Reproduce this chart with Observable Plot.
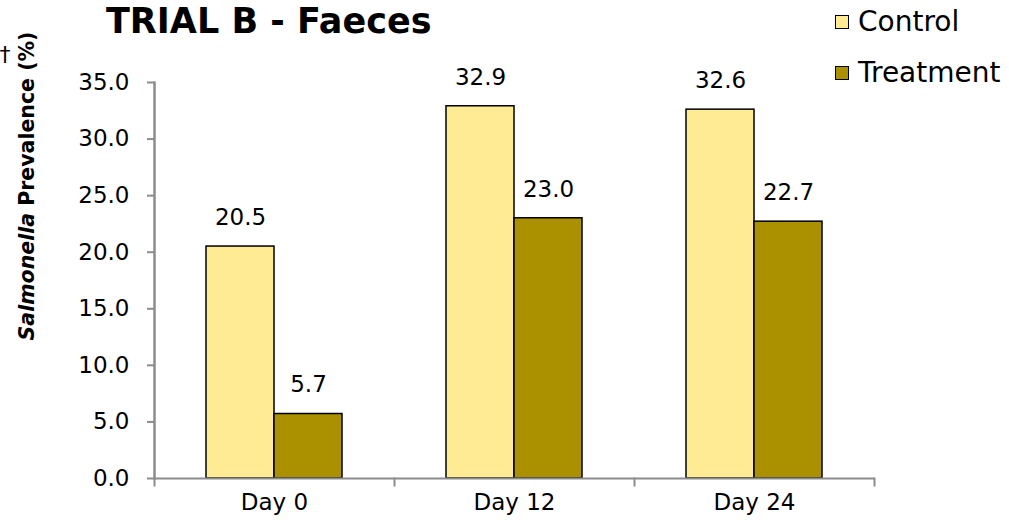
<!DOCTYPE html>
<html><head><meta charset="utf-8">
<script src="https://cdn.jsdelivr.net/npm/d3@7"></script>
<script src="https://cdn.jsdelivr.net/npm/@observablehq/plot@0.6"></script>
<style>
body{margin:0;background:#fff;font-family:"DejaVu Sans",sans-serif;}
#wrap{position:relative;width:1009px;height:528px;overflow:hidden;}
#title{position:absolute;left:106px;top:1px;font-weight:bold;font-size:35px;color:#000;white-space:nowrap;}
#legend{position:absolute;left:835px;top:-4px;font-size:28px;color:#000;}
.item{display:flex;align-items:center;height:51px;white-space:nowrap;}
.sw{width:12px;height:12px;border:1.5px solid #000;margin-right:9px;}
#ylab{position:absolute;left:0;top:0;}
</style></head><body><div id="wrap"></div>
<script>
const days = ["Day 0", "Day 12", "Day 24"];
const series = ["Control", "Treatment"];
const control = [20.5, 32.9, 32.6];
const treatment = [5.7, 23.0, 22.7];
const colors = ["#FFEB94", "#AB9000"];
const yTicks = [0, 5, 10, 15, 20, 25, 30, 35];
const titleText = "TRIAL B - Faeces";

const rows = [];
days.forEach((d, i) => {
  rows.push({day: d, series: series[0], value: control[i]});
  rows.push({day: d, series: series[1], value: treatment[i]});
});

const axisGray = "#8c8c8c";
const chart = Plot.plot({
  width: 1009, height: 528,
  marginLeft: 153, marginRight: 135, marginTop: 82, marginBottom: 50,
  style: {fontFamily: "DejaVu Sans", fontSize: "23px", color: "#000", background: "transparent", overflow: "visible"},
  fx: {domain: days, padding: 0, label: null, axis: null},
  x: {domain: series, paddingInner: 0, paddingOuter: 0.752, axis: null},
  y: {domain: [0, 35], label: null, axis: null},
  color: {domain: series, range: colors},
  marks: [
    Plot.barY(rows, {fx: "day", x: "series", y: "value", fill: "series", stroke: "#000", strokeWidth: 1.5}),
    Plot.text(rows, {fx: "day", x: "series", y: "value", text: d => d.value.toFixed(1), dy: -29, fontSize: 23, fill: "#000"}),
    Plot.ruleY([0], {stroke: axisGray, strokeWidth: 2}),
    Plot.axisY({ticks: yTicks, tickFormat: d3.format(".1f"), tickSize: 7, tickPadding: 18, stroke: axisGray, strokeWidth: 2, fill: "#000", fontSize: 23, label: null}),
    Plot.axisFx({anchor: "bottom", tickSize: 0, tickPadding: 15, fontSize: 23, fill: "#000", label: null}),
    Plot.frame({anchor: "left", stroke: axisGray, strokeWidth: 2, insetTop: 396, insetBottom: -7}),
    Plot.frame({anchor: "right", facetAnchor: "right", stroke: axisGray, strokeWidth: 2, insetTop: 396, insetBottom: -7}),
    Plot.frame({anchor: "left", facet: "super", stroke: axisGray, strokeWidth: 2}),
    Plot.frame({anchor: "left", facetAnchor: "left", stroke: axisGray, strokeWidth: 2})
  ]
});

const wrap = document.getElementById("wrap");
wrap.appendChild(chart);

const title = document.createElement("div");
title.id = "title"; title.textContent = titleText;
wrap.appendChild(title);

const legend = document.createElement("div");
legend.id = "legend";
series.forEach((s, i) => {
  const it = document.createElement("div"); it.className = "item";
  const sw = document.createElement("div"); sw.className = "sw"; sw.style.background = colors[i];
  const lb = document.createElement("span"); lb.textContent = s;
  it.appendChild(sw); it.appendChild(lb); legend.appendChild(it);
});
wrap.appendChild(legend);

const svg = d3.select(wrap).append("svg").attr("id", "ylab").attr("width", 60).attr("height", 528);
const t = svg.append("text")
  .attr("transform", "translate(34,186) rotate(-90)")
  .attr("text-anchor", "middle")
  .style("font-family", "DejaVu Sans").style("font-size", "20.5px").style("font-weight", "bold");
t.append("tspan").style("font-style", "italic").text("Salmonella");
t.append("tspan").text(" Prevalence (%)");
svg.append("text").attr("x", 5).attr("y", 62).attr("text-anchor", "middle")
  .style("font-family", "DejaVu Sans").style("font-size", "22px").text("†");
</script></body></html>
